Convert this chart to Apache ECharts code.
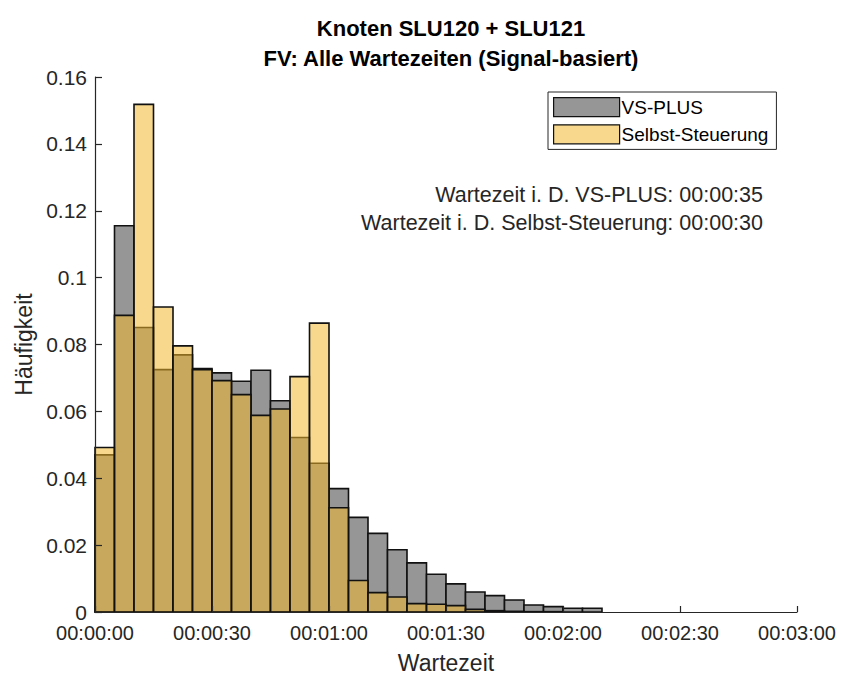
<!DOCTYPE html>
<html>
<head>
<meta charset="utf-8">
<script src="https://cdn.jsdelivr.net/npm/echarts@6/dist/echarts.min.js"></script>
<style>
html,body{margin:0;padding:0;background:#fff;}
#chart{width:842px;height:679px;}
</style>
</head>
<body>
<div id="chart"></div>
<script>
// bin start times in seconds (bin width 5 s)
const binStarts = [0,5,10,15,20,25,30,35,40,45,50,55,60,65,70,75,80,85,90,95,100,105,110,115,120,125];
const binWidth = 5;
const vsPlus = [0.0470,0.1155,0.0851,0.0725,0.0769,0.0728,0.0715,0.0690,0.0723,0.0632,0.0522,0.0445,0.0369,0.0283,0.0235,0.0186,0.0147,0.0113,0.0084,0.0060,0.0049,0.0036,0.0021,0.0016,0.0011,0.0011];
const selbst = [0.0492,0.0887,0.1518,0.0912,0.0796,0.0725,0.0692,0.0650,0.0588,0.0607,0.0704,0.0864,0.0312,0.0094,0.0058,0.0045,0.0025,0.0023,0.0019,0.0008,0.0004,0.0002,0.0001,0.0001,0,0];
const xTicks = [0,30,60,90,120,150,180];
const yTicks = [0,0.02,0.04,0.06,0.08,0.1,0.12,0.14,0.16];
const titleLines = ['Knoten SLU120 + SLU121','FV: Alle Wartezeiten (Signal-basiert)'];
const seriesNames = ['VS-PLUS','Selbst-Steuerung'];
const notes = ['Wartezeit i. D. VS-PLUS: 00:00:35','Wartezeit i. D. Selbst-Steuerung: 00:00:30'];

const FONT = 'Liberation Sans, Arial, Helvetica, sans-serif';
const TXT = '#262626';
const GRAY = '#969696';
const YELLOW = 'rgba(240,183,44,0.54)';

function fmt(s){
  const h = Math.floor(s/3600), m = Math.floor((s%3600)/60), sec = Math.round(s%60);
  const p = n => String(n).padStart(2,'0');
  return p(h)+':'+p(m)+':'+p(sec);
}
function makeData(vals){
  return binStarts.map((b,i)=>[b, b+binWidth, vals[i]]);
}
function renderer(fill){
  return function(params, api){
    const x0 = api.value(0), x1 = api.value(1), v = api.value(2);
    if (!v) return null;
    const p0 = api.coord([x0, 0]);
    const p1 = api.coord([x1, v]);
    return {
      type:'rect',
      shape:{x:p0[0], y:p1[1], width:p1[0]-p0[0], height:p0[1]-p1[1]},
      style:{fill:fill, stroke:'#111', lineWidth:1.6}
    };
  };
}

const chart = echarts.init(document.getElementById('chart'), null, {renderer:'svg'});
chart.setOption({
  backgroundColor:'#fff',
  animation:false,
  title:{
    text: titleLines.join('\n'),
    left: 446, top: 8, textAlign:'center',
    textStyle:{fontFamily:FONT, fontWeight:'bold', fontSize:22, lineHeight:30, color:'#000'}
  },
  grid:{left:95, right:45, top:77, bottom:66, containLabel:false},
  legend:{
    orient:'vertical', left:548, top:92,
    data: seriesNames,
    icon:'rect', itemWidth:66, itemHeight:19, itemGap:7,
    padding:[5,8,5,5],
    borderColor:'#262626', borderWidth:1, backgroundColor:'#fff',
    itemStyle:{borderColor:'#111', borderWidth:1.2},
    textStyle:{fontFamily:FONT, fontSize:19, color:'#000', padding:[0,0,0,-3]}
  },
  xAxis:{
    type:'value', min:0, max:180, interval:30,
    name:'Wartezeit', nameLocation:'middle', nameGap:39,
    nameTextStyle:{fontFamily:FONT, fontSize:23, color:TXT},
    axisLine:{show:true, onZero:false, lineStyle:{color:TXT, width:1.2}},
    axisTick:{show:true, inside:true, length:6, lineStyle:{color:TXT, width:1.2}},
    axisLabel:{fontFamily:FONT, fontSize:20, color:TXT, margin:11, formatter:v=>fmt(v)},
    splitLine:{show:false},
    z:5
  },
  yAxis:{
    type:'value', min:0, max:0.16, interval:0.02,
    name:'Häufigkeit', nameLocation:'middle', nameGap:57, nameRotate:90,
    nameTextStyle:{fontFamily:FONT, fontSize:23, color:TXT},
    axisLine:{show:true, onZero:false, lineStyle:{color:TXT, width:1.2}},
    axisTick:{show:true, inside:true, length:7, lineStyle:{color:TXT, width:1.2}},
    axisLabel:{fontFamily:FONT, fontSize:21, color:TXT, margin:8},
    splitLine:{show:false},
    z:5
  },
  series:[
    {name:seriesNames[0], type:'custom', renderItem:renderer(GRAY), data:makeData(vsPlus),
     itemStyle:{color:GRAY}, encode:{x:[0,1], y:2}, z:2},
    {name:seriesNames[1], type:'custom', renderItem:renderer(YELLOW), data:makeData(selbst),
     itemStyle:{color:'#F7D88D'}, encode:{x:[0,1], y:2}, z:3}
  ],
  graphic:[
    {type:'text', right:842-763, top:184, style:{text:notes[0], fontFamily:FONT, fontSize:21.5, fill:TXT, textAlign:'right'}},
    {type:'text', right:842-763, top:212, style:{text:notes[1], fontFamily:FONT, fontSize:21.5, fill:TXT, textAlign:'right'}}
  ]
});
</script>
</body>
</html>
